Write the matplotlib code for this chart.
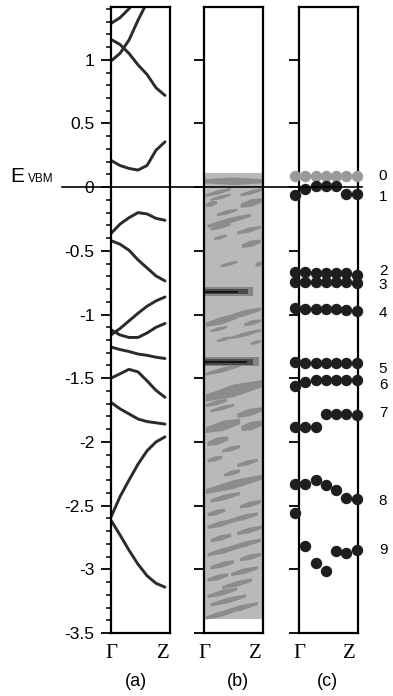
import numpy as np
import matplotlib.pyplot as plt
from matplotlib.lines import Line2D
from matplotlib import transforms

plt.rcParams['font.family'] = ['Liberation Sans', 'DejaVu Sans']

# k-points along Gamma -> Z
kpts = [0, 1/6, 2/6, 3/6, 4/6, 5/6, 1]
nan = np.nan

# (a) band energies (eV) at kpts
bands = [
    [1.285, 1.33, 1.40, 1.50, nan, nan, nan],
    [0.99, 1.05, 1.155, 1.31, 1.45, nan, nan],
    [1.16, 1.12, 1.05, 0.96, 0.885, 0.78, 0.72],
    [0.21, 0.17, 0.147, 0.134, 0.17, 0.29, 0.356],
    [-0.364, -0.29, -0.24, -0.20, -0.21, -0.245, -0.26],
    [-0.42, -0.448, -0.495, -0.571, -0.634, -0.697, -0.736],
    [-1.16, -1.11, -1.05, -0.99, -0.935, -0.893, -0.862],
    [-1.12, -1.16, -1.18, -1.18, -1.145, -1.10, -1.07],
    [-1.255, -1.275, -1.29, -1.31, -1.32, -1.335, -1.345],
    [-1.50, -1.465, -1.43, -1.45, -1.52, -1.595, -1.65],
    [-1.69, -1.74, -1.78, -1.82, -1.84, -1.85, -1.86],
    [-2.59, -2.43, -2.30, -2.175, -2.07, -2.00, -1.96],
    [-2.615, -2.73, -2.85, -2.96, -3.05, -3.11, -3.14],
]

# (b) local density of states: extent of the grey map and darker streaks
ldos_top = 0.115
ldos_bottom = -3.39
streak_e = [0.05, -0.037, -0.037, -0.076, -0.128, -0.12, -0.194, -0.26, -0.306, -0.333,
            -0.39, -0.44, -0.60, -0.60, -0.99, -1.045, -1.06, -1.11, -1.15, -1.19,
            -1.215, -1.43, -1.595, -1.69, -1.73, -1.765, -1.87, -1.87, -1.99, -2.05,
            -2.13, -2.16, -2.24, -2.33, -2.43, -2.485, -2.55, -2.59, -2.64, -2.69,
            -2.75, -2.80, -2.85, -2.90, -2.96, -3.01, -3.06, -3.11, -3.18, -3.24,
            -3.30, -3.35]
streak_x0 = [0.0, 0.02, 0.61, 0.10, 0.02, 0.61, 0.21, 0.05, 0.10, 0.55,
             0.16, 0.63, 0.27, 0.86, 0.33, 0.02, 0.67, 0.10, 0.44, 0.21,
             0.78, 0.02, 0.02, 0.02, 0.10, 0.55, 0.02, 0.62, 0.05, 0.30,
             0.05, 0.55, 0.33, 0.02, 0.10, 0.60, 0.05, 0.40, 0.05, 0.55,
             0.10, 0.40, 0.05, 0.60, 0.10, 0.45, 0.05, 0.30, 0.05, 0.10,
             0.30, 0.02]
streak_x1 = [0.97, 0.44, 0.97, 0.44, 0.21, 0.97, 0.55, 0.78, 0.44, 0.95,
             0.38, 0.95, 0.55, 0.97, 0.95, 0.55, 0.95, 0.38, 0.95, 0.44,
             0.95, 0.60, 0.97, 0.38, 0.50, 0.97, 0.60, 0.97, 0.40, 0.60,
             0.30, 0.90, 0.60, 0.97, 0.60, 0.95, 0.35, 0.90, 0.50, 0.97,
             0.45, 0.95, 0.60, 0.95, 0.50, 0.90, 0.40, 0.80, 0.55, 0.70,
             0.90, 0.50]
streak_t = [0.06, 0.035, 0.035, 0.03, 0.045, 0.06, 0.035, 0.045, 0.035, 0.04,
            0.03, 0.05, 0.03, 0.04, 0.05, 0.06, 0.04, 0.03, 0.035, 0.03,
            0.03, 0.04, 0.10, 0.04, 0.035, 0.06, 0.08, 0.07, 0.06, 0.04,
            0.04, 0.04, 0.04, 0.07, 0.045, 0.045, 0.045, 0.045, 0.045, 0.045,
            0.045, 0.045, 0.045, 0.045, 0.045, 0.045, 0.045, 0.045, 0.045, 0.045,
            0.045, 0.045]
peak_e = [-0.82, -1.372]
peak_x1 = [0.83, 0.92]
peak_core_x1 = [0.55, 0.70]

# (c) state energies at kpts, states 0..9
state_levels = [
    [0.09, 0.09, 0.09, 0.09, 0.09, 0.09, 0.09],
    [-0.063, -0.018, 0.008, 0.012, 0.008, -0.05, -0.057],
    [-0.665, -0.665, -0.675, -0.675, -0.675, -0.675, -0.69],
    [-0.745, -0.745, -0.745, -0.745, -0.745, -0.745, -0.75],
    [-0.945, -0.96, -0.96, -0.96, -0.96, -0.965, -0.97],
    [-1.372, -1.38, -1.38, -1.38, -1.38, -1.38, -1.38],
    [-1.56, -1.53, -1.516, -1.516, -1.51, -1.51, -1.51],
    [-1.883, -1.883, -1.883, -1.78, -1.78, -1.78, -1.79],
    [-2.33, -2.33, -2.30, -2.34, -2.38, -2.44, -2.45],
    [-2.56, -2.82, -2.95, -3.01, -2.86, -2.87, -2.85],
]
state_names = ['0', '1', '2', '3', '4', '5', '6', '7', '8', '9']
state_label_e = [0.089, -0.081, -0.655, -0.772, -0.985, -1.425, -1.555, -1.775, -2.46, -2.85]

ylim = (-3.5, 1.414)

fig = plt.figure(figsize=(3.93, 6.96), dpi=100)
axa = fig.add_axes([0.2824, 0.0905, 0.1489, 0.8994])
axb = fig.add_axes([0.5191, 0.0905, 0.1509, 0.8994])
axc = fig.add_axes([0.7616, 0.0905, 0.1506, 0.8994])

serif = ['Liberation Serif', 'DejaVu Serif']

for ax in (axa, axb, axc):
    ax.set_ylim(*ylim)
    for s in ax.spines.values():
        s.set_linewidth(1.6)
    ax.set_yticks(np.arange(-3.5, 1.01, 0.5))
    ax.tick_params(axis='y', which='major', direction='out', length=7, width=1.3,
                   left=True, right=False, labelsize=12.5, pad=5)
    ax.tick_params(axis='x', length=0, pad=8)

# (a) bands
for e in bands:
    axa.plot(kpts, e, color='#2b2b2b', lw=2.1, solid_capstyle='round')
axa.set_xlim(0, 1.083)
axa.set_yticks(np.arange(-3.5, 1.41, 0.1), minor=True)
axa.tick_params(axis='y', which='minor', direction='out', length=3.5, width=1.1)
axa.set_yticklabels(['-3.5', '-3', '-2.5', '-2', '-1.5', '-1', '-0.5', '0', '0.5', '1'])
axa.set_xticks([0, 0.97])
axa.set_xticklabels(['Γ', 'Z'], family=serif, fontsize=15)

# (b) LDOS map
axb.set_xlim(0, 1)
axb.fill_between([0, 0.973], ldos_bottom, ldos_top, color='#b9b9b9', lw=0)
for i, (e, x0, x1, t) in enumerate(zip(streak_e, streak_x0, streak_x1, streak_t)):
    xs = np.array([x0, (x0 + x1) / 2, x1])
    tilt = 0.0 if i == 0 else 0.12 * (xs - (x0 + x1) / 2)
    half = np.array([0.55, 1.0, 0.55]) * t / 2
    axb.fill_between(xs, e - half + tilt, e + half + tilt, color='#8c8c8c', lw=0)
for e, x1, xc in zip(peak_e, peak_x1, peak_core_x1):
    axb.fill_between([0, x1], e - 0.035, e + 0.035, color='#858585', lw=0)
    axb.fill_between([0, x1 * 0.9], e - 0.022, e + 0.022, color='#4a4a4a', lw=0)
    axb.plot([0, xc], [e, e], color='#111111', lw=1.3)
axb.set_yticklabels([])
axb.set_xticks([0, 0.86])
axb.set_xticklabels(['Γ', 'Z'], family=serif, fontsize=15)

# (c) states
axc.set_xlim(0.07, 1.03)
for i, lev in enumerate(state_levels):
    col = '#9a9a9a' if i == 0 else '#1e1e1e'
    axc.plot(kpts, lev, 'o', color=col, ms=7.2, mec=col, clip_on=False, zorder=3)
axc.set_yticklabels([])
axc.set_xticks([0.07, 0.89])
axc.set_xticklabels(['Γ', 'Z'], family=serif, fontsize=15)

lab_tr = transforms.blended_transform_factory(fig.transFigure, axc.transData)
for name, e in zip(state_names, state_label_e):
    fig.text(0.9746, e, name, transform=lab_tr, fontsize=11, ha='center', va='center')

# E_VBM reference line across all panels
zero_tr = transforms.blended_transform_factory(fig.transFigure, axa.transData)
fig.add_artist(Line2D([0.158, 0.922], [0, 0], transform=zero_tr, color='black', lw=1.2))
fig.text(10 / 393, 1 - 181.7 / 696, 'E', fontsize=15, va='baseline', ha='left')
fig.text(28 / 393, 1 - 181.7 / 696, 'VBM', fontsize=8.5, va='baseline', ha='left')

for x, s in zip([136, 238, 327], ['(a)', '(b)', '(c)']):
    fig.text(x / 393, 1 - 681 / 696, s, fontsize=13, ha='center', va='center')

fig.savefig('out.png', dpi=100)
